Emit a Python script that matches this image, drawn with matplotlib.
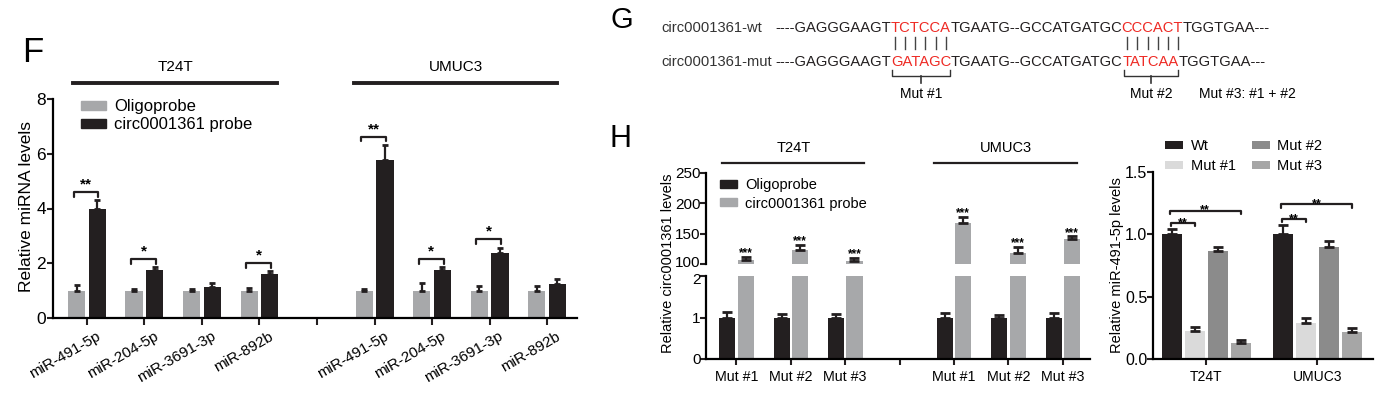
import numpy as np
import matplotlib
matplotlib.use('Agg')
import matplotlib.pyplot as plt
import matplotlib.transforms as mtransforms
from matplotlib.patches import Patch

plt.rcParams['font.family'] = ['Liberation Sans', 'DejaVu Sans']

# ---- panel F : RNA pull-down, miRNA levels
f_mirs = ['miR-491-5p', 'miR-204-5p', 'miR-3691-3p', 'miR-892b']
f_oligo_t24t = [1.0, 1.0, 1.0, 1.0]
f_oligo_t24t_err = [0.21, 0.07, 0.05, 0.08]
f_probe_t24t = [3.98, 1.74, 1.13, 1.62]
f_probe_t24t_err = [0.32, 0.12, 0.14, 0.09]
f_oligo_umuc3 = [1.0, 1.0, 1.0, 1.0]
f_oligo_umuc3_err = [0.05, 0.28, 0.16, 0.17]
f_probe_umuc3 = [5.78, 1.75, 2.36, 1.26]
f_probe_umuc3_err = [0.55, 0.11, 0.21, 0.18]
f_sig_t24t = ['**', '*', '', '*']
f_sig_umuc3 = ['**', '*', '*', '']

# ---- panel G : sequences
wt_label = 'circ0001361-wt'
mut_label = 'circ0001361-mut'
wt_pieces = [('----GAGGGAAGT', 'k'), ('TCTCCA', 'r'), ('TGAATG--GCCATGATGC', 'k'),
             ('CCCACT', 'r'), ('TGGTGAA---', 'k')]
mut_pieces = [('----GAGGGAAGT', 'k'), ('GATAGC', 'r'), ('TGAATG--GCCATGATGC', 'k'),
              ('TATCAA', 'r'), ('TGGTGAA---', 'k')]
mut_names = ['Mut #1', 'Mut #2']
mut3_note = 'Mut #3: #1 + #2'

# ---- panel H left : circ0001361 levels (broken axis)
h_muts = ['Mut #1', 'Mut #2', 'Mut #3']
h_oligo = [1.0, 1.0, 1.0, 1.0, 1.0, 1.0]
h_oligo_err = [0.14, 0.08, 0.08, 0.10, 0.07, 0.11]
h_probe = [106.6, 123.7, 105.0, 167.0, 117.6, 141.0]
h_probe_err = [4.4, 7.3, 5.5, 10.0, 9.9, 4.5]

# ---- panel H right : miR-491-5p levels
r_cells = ['T24T', 'UMUC3']
r_names = ['Wt', 'Mut #1', 'Mut #2', 'Mut #3']
r_wt = [1.0, 1.0]
r_wt_err = [0.04, 0.075]
r_mut1 = [0.225, 0.285]
r_mut1_err = [0.03, 0.045]
r_mut2 = [0.868, 0.90]
r_mut2_err = [0.03, 0.05]
r_mut3 = [0.125, 0.215]
r_mut3_err = [0.025, 0.03]

BLACK = '#231f20'
GRAY = '#a7a8aa'
RED = '#ee2a24'
r_colors = [BLACK, '#dadada', '#8b8b8b', '#a6a6a6']

W, H = 1377, 396
fig = plt.figure(figsize=(W / 100, H / 100), dpi=100)


def px_axes(x0, y0, x1, y1):
    return fig.add_axes([x0 / W, 1 - y1 / H, (x1 - x0) / W, (y1 - y0) / H])


def fig_text(x, y, s, **kw):
    fig.text(x / W, 1 - y / H, s, **kw)


def style(ax, bottom=True):
    ax.spines['top'].set_visible(False)
    ax.spines['right'].set_visible(False)
    ax.spines['left'].set_linewidth(1.6)
    ax.spines['bottom'].set_linewidth(1.6)
    if not bottom:
        ax.spines['bottom'].set_visible(False)
        ax.tick_params(axis='x', bottom=False, labelbottom=False)
    ax.tick_params(width=1.5, length=4, color=BLACK, pad=1)
    ax.set_facecolor('none')


def bracket(ax, x1, x2, y, drop, text, fs, off):
    ax.plot([x1, x1, x2, x2], [y - drop, y, y, y - drop], color=BLACK, lw=1.6,
            clip_on=False, solid_joinstyle='round', solid_capstyle='round')
    ax.annotate(text, ((x1 + x2) / 2, y), xytext=(0, off), textcoords='offset points',
                ha='center', va='baseline', fontsize=fs, fontweight='bold')


def up_err(ax, x, y, e, cs):
    ax.errorbar(x, y, yerr=[np.zeros(len(e)), e], fmt='none', ecolor=BLACK,
                elinewidth=1.6, capsize=cs, capthick=2)


def nudge(lbl, dy_px):
    lbl.set_transform(lbl.get_transform() +
                      mtransforms.ScaledTranslation(0, dy_px / 100, fig.dpi_scale_trans))


# ================= panel F =================
axF = px_axes(53, 99, 577, 318)
style(axF)
xf = np.array([0, 1, 2, 3, 5, 6, 7, 8])
oligo = f_oligo_t24t + f_oligo_umuc3
oligo_err = f_oligo_t24t_err + f_oligo_umuc3_err
probe = f_probe_t24t + f_probe_umuc3
probe_err = f_probe_t24t_err + f_probe_umuc3_err
axF.bar(xf - 0.18, oligo, 0.30, color=GRAY)
axF.bar(xf + 0.18, probe, 0.30, color=BLACK)
up_err(axF, xf - 0.18, oligo, oligo_err, 2.5)
up_err(axF, xf + 0.18, probe, probe_err, 2.5)
axF.set_xlim(-0.59, 8.52)
axF.set_ylim(0, 8)
axF.set_yticks([0, 2, 4, 6, 8])
axF.tick_params(axis='y', labelsize=12.5)
axF.tick_params(axis='x', length=5)
axF.set_xticks(range(9))
axF.set_xticklabels(f_mirs + [''] + f_mirs, rotation=30, ha='right',
                    rotation_mode='anchor', fontsize=11)
shift = mtransforms.ScaledTranslation(9 / 100, -3 / 100, fig.dpi_scale_trans)
for lbl in axF.get_xticklabels():
    lbl.set_transform(lbl.get_transform() + shift)

sigs = f_sig_t24t + f_sig_umuc3
tops = np.array(probe) + np.array(probe_err)
for i, s in enumerate(sigs):
    if s:
        bracket(axF, xf[i] - 0.23, xf[i] + 0.2, tops[i] + 0.3, 0.17, s, 11, 2.5)

tr = axF.get_xaxis_transform()
for (a, b), name in zip([(-0.24, 3.31), (4.64, 8.18)], ['T24T', 'UMUC3']):
    axF.plot([a, b], [1.073, 1.073], transform=tr, clip_on=False, color=BLACK, lw=2.8)
    axF.text((a + b) / 2, 1.146, name, transform=tr, ha='center', va='center', fontsize=11)

axF.legend(handles=[Patch(color=GRAY, label='Oligoprobe'),
                    Patch(color=BLACK, label='circ0001361 probe')],
           loc='upper left', bbox_to_anchor=(0.053, 1.0), frameon=False, fontsize=12,
           handlelength=1.5, handleheight=0.45, handletextpad=0.5, labelspacing=0.2,
           borderpad=0, borderaxespad=0)
fig_text(27, 207, 'Relative miRNA levels', rotation=90, ha='center', va='center', fontsize=12.5)
fig_text(22, 62, 'F', fontsize=25, va='baseline')

# ================= panel G =================
axG = fig.add_axes([0, 0, 1, 1], zorder=-1)
axG.set_xlim(0, W)
axG.set_ylim(H, 0)
axG.axis('off')
renderer = fig.canvas.get_renderer()
SEQ_FS = 10.6


def text_w(s, fs=SEQ_FS):
    if not s:
        return 0.0
    t = axG.text(0, 0, s, fontsize=fs)
    w = t.get_window_extent(renderer).width
    t.remove()
    return w


def draw_seq(x0, y, pieces):
    full = ''
    red_spans = []
    for s, c in pieces:
        xs = x0 + text_w(full)
        axG.text(xs, y, s, color=RED if c == 'r' else BLACK, fontsize=SEQ_FS, va='baseline')
        if c == 'r':
            centers = [x0 + (text_w(full + s[:j]) + text_w(full + s[:j + 1])) / 2 for j in range(len(s))]
            red_spans.append((xs, x0 + text_w(full + s), centers))
        full += s
    return red_spans


axG.text(661, 32, wt_label, fontsize=SEQ_FS, va='baseline', color='#333333')
axG.text(661, 66, mut_label, fontsize=SEQ_FS, va='baseline', color='#333333')
wt_spans = draw_seq(775, 32, wt_pieces)
mut_spans = draw_seq(775, 66, mut_pieces)
for (a, b, cs) in wt_spans:
    for c in cs:
        axG.plot([c, c], [37, 49], color='#444444', lw=1)
for (a, b, cs), name in zip(mut_spans, mut_names):
    axG.plot([a + 1, a + 1, b - 1, b - 1], [70, 76, 76, 70], color='#333333', lw=1)
    axG.plot([(a + b) / 2] * 2, [76, 83], color='#333333', lw=1.2)
    axG.text((a + b) / 2, 98, name, ha='center', va='baseline', fontsize=10)
axG.text(1199, 98, mut3_note, ha='left', va='baseline', fontsize=10)
fig_text(611, 28, 'G', fontsize=21, va='baseline')

# ================= panel H left =================
axHt = px_axes(706, 173, 1090, 264)
axHb = px_axes(706, 276, 1090, 359)
xh = np.array([0, 1, 2, 4, 5, 6])
for ax in (axHt, axHb):
    ax.bar(xh - 0.17, h_oligo, 0.295, color=BLACK)
    ax.bar(xh + 0.17, h_probe, 0.295, color=GRAY)
    up_err(ax, xh - 0.17, h_oligo, h_oligo_err, 3.5)
    up_err(ax, xh + 0.17, h_probe, h_probe_err, 3.5)
    ax.set_xlim(-0.56, 6.5)
style(axHt, bottom=False)
style(axHb)
axHt.set_ylim(100, 250)
axHt.set_yticks([100, 150, 200, 250])
axHb.set_ylim(0, 2)
axHb.set_yticks([0, 1, 2])
for ax in (axHt, axHb):
    ax.tick_params(axis='y', labelsize=11, pad=0)
# keep the two labels at the axis break apart
nudge(axHt.get_yticklabels()[0], 2.5)
nudge(axHb.get_yticklabels()[-1], -2.5)
axHb.set_xticks(range(7))
axHb.set_xticklabels(h_muts + [''] + h_muts, fontsize=10.3)
axHb.tick_params(axis='x', pad=4)
for i in range(len(xh)):
    axHt.annotate('***', (xh[i] + 0.17, h_probe[i] + h_probe_err[i]), xytext=(0, 0.5),
                  textcoords='offset points', ha='center', va='baseline',
                  fontsize=8.5, fontweight='bold')
trh = axHt.get_xaxis_transform()
for (a, b), name in zip([(-0.26, 2.35), (3.64, 6.27)], ['T24T', 'UMUC3']):
    axHt.plot([a, b], [1.11, 1.11], transform=trh, clip_on=False, color=BLACK, lw=1.6)
    axHt.text((a + b) / 2, 1.275, name, transform=trh, ha='center', va='center', fontsize=10.5)
axHt.legend(handles=[Patch(color=BLACK, label='Oligoprobe'),
                     Patch(color=GRAY, label='circ0001361 probe')],
            loc='upper left', bbox_to_anchor=(0.036, 0.94), frameon=False, fontsize=10.5,
            handlelength=1.2, handleheight=0.45, handletextpad=0.55, labelspacing=0.28,
            borderpad=0, borderaxespad=0)
fig_text(668, 263, 'Relative circ0001361 levels', rotation=90, ha='center', va='center', fontsize=10.5)
fig_text(610, 147, 'H', fontsize=22, va='baseline')

# ================= panel H right =================
axR = px_axes(1153, 172, 1373, 359)
style(axR)
xr = np.arange(len(r_cells))
vals = [r_wt, r_mut1, r_mut2, r_mut3]
errs = [r_wt_err, r_mut1_err, r_mut2_err, r_mut3_err]
offs = np.array([-1.5, -0.5, 0.5, 1.5]) * 0.207
for v, e, o, c, n in zip(vals, errs, offs, r_colors, r_names):
    axR.bar(xr + o, v, 0.177, color=c, label=n)
    up_err(axR, xr + o, v, e, 3.5)
axR.set_xlim(-0.48, 1.5)
axR.set_ylim(0, 1.5)
axR.set_yticks([0, 0.5, 1.0, 1.5])
axR.set_yticklabels(['0.0', '0.5', '1.0', '1.5'])
axR.tick_params(axis='y', labelsize=11.5, pad=0)
axR.set_xticks(xr)
axR.set_xticklabels(r_cells, fontsize=10)
axR.tick_params(axis='x', pad=4)
for k, (small, large) in enumerate([(1.088, 1.19), (1.12, 1.24)]):
    bracket(axR, k + offs[0] - 0.01, k + offs[1], small, 0.025, '**', 9, -2)
    bracket(axR, k + offs[0] - 0.02, k + offs[3], large, 0.025, '**', 9, -2)
axR.legend(loc='upper left', bbox_to_anchor=(0.055, 1.175), ncol=2, frameon=False, fontsize=10.5,
           handlelength=1.25, handleheight=0.45, handletextpad=0.5, labelspacing=0.4,
           columnspacing=1.1, borderpad=0, borderaxespad=0)
fig_text(1117, 265, 'Relative miR-491-5p levels', rotation=90, ha='center', va='center', fontsize=10.5)

fig.savefig('out.png', dpi=100)
